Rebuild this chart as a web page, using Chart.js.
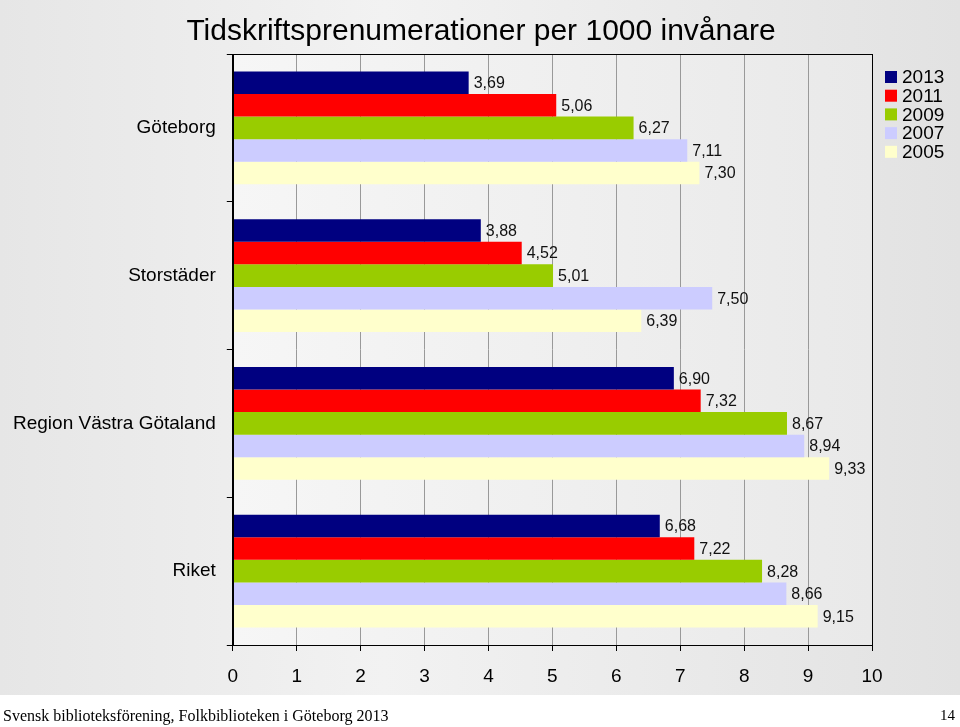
<!DOCTYPE html>
<html>
<head>
<meta charset="utf-8">
<script src="https://cdn.jsdelivr.net/npm/chart.js@4.4.0/dist/chart.umd.min.js"></script>
<style>
  body { margin: 0; background: #fff; }
  #slide { position: relative; width: 960px; height: 695px;
    background: linear-gradient(to right, #e6e6e6 0%, #f2f2f2 40%, #e2e2e2 100%); }
  #prenumerationer { position: absolute; left: 0; top: 0; }
  #footer { position: relative; width: 960px; height: 32px; font-family: "Liberation Serif", "DejaVu Serif", serif; color: #000; }
  #footer .kalla { position: absolute; left: 3px; top: 12px; font-size: 16px; }
  #footer .sida { position: absolute; right: 5px; top: 12px; font-size: 15px; }
</style>
</head>
<body>
<div id="slide"><canvas id="prenumerationer" width="960" height="703" style="width:960px;height:703px"></canvas></div>
<div id="footer"><span class="kalla">Svensk biblioteksförening, Folkbiblioteken i Göteborg 2013</span><span class="sida">14</span></div>
<script>
var kategorier = ['Göteborg', 'Storstäder', 'Region Västra Götaland', 'Riket'];
var ar2013 = [3.69, 3.88, 6.90, 6.68];
var ar2011 = [5.06, 4.52, 7.32, 7.22];
var ar2009 = [6.27, 5.01, 8.67, 8.28];
var ar2007 = [7.11, 7.50, 8.94, 8.66];
var ar2005 = [7.30, 6.39, 9.33, 9.15];

var typsnitt = 'Arial, "Liberation Sans", sans-serif';

// ljusare yta bakom staplarna + svart ram
var plotyta = {
  id: 'plotyta',
  beforeDraw: function(chart) {
    var ctx = chart.ctx, a = chart.chartArea;
    var g = ctx.createLinearGradient(a.left, 0, a.right, 0);
    g.addColorStop(0, '#f6f6f6');
    g.addColorStop(1, '#e9e9e9');
    ctx.save();
    ctx.fillStyle = g;
    ctx.fillRect(a.left, a.top, a.right - a.left, a.bottom - a.top);
    ctx.restore();
  },
  afterDraw: function(chart) {
    var ctx = chart.ctx, a = chart.chartArea;
    ctx.save();
    ctx.strokeStyle = '#000';
    ctx.lineWidth = 1;
    ctx.strokeRect(Math.round(a.left) + 0.5, Math.round(a.top) + 0.5, Math.round(a.right - a.left), Math.round(a.bottom - a.top));
    ctx.restore();
  }
};

// värden efter staplarna
var etiketter = {
  id: 'etiketter',
  afterDatasetsDraw: function(chart) {
    var ctx = chart.ctx;
    ctx.save();
    ctx.font = '16px ' + typsnitt;
    ctx.fillStyle = '#111';
    ctx.textBaseline = 'middle';
    chart.data.datasets.forEach(function(ds, i) {
      chart.getDatasetMeta(i).data.forEach(function(bar, j) {
        ctx.fillText(ds.data[j].toFixed(2).replace('.', ','), bar.x + 5, bar.y + 1);
      });
    });
    ctx.restore();
  }
};

// förklaring uppe till höger
var forklaring = {
  id: 'forklaring',
  afterDraw: function(chart) {
    var ctx = chart.ctx, a = chart.chartArea;
    ctx.save();
    ctx.font = '19px ' + typsnitt;
    ctx.textBaseline = 'middle';
    chart.data.datasets.forEach(function(ds, i) {
      var y = a.top + 23 + i * 18.7;
      ctx.fillStyle = ds.backgroundColor;
      ctx.fillRect(a.right + 13, y - 6, 12, 12);
      ctx.fillStyle = '#000';
      ctx.fillText(ds.label, a.right + 30, y + 1);
    });
    ctx.restore();
  }
};

var ctx = document.getElementById('prenumerationer').getContext('2d');

var prenumerationer = new Chart(ctx, {
  type: 'bar',
  data: {
    labels: kategorier,
    datasets: [
      { label: '2013', data: ar2013, backgroundColor: '#000080' },
      { label: '2011', data: ar2011, backgroundColor: '#ff0000' },
      { label: '2009', data: ar2009, backgroundColor: '#99cc00' },
      { label: '2007', data: ar2007, backgroundColor: '#ccccff' },
      { label: '2005', data: ar2005, backgroundColor: '#ffffcc' }
    ]
  },
  options: {
    indexAxis: 'y',
    responsive: false,
    animation: false,
    datasets: {
      bar: { categoryPercentage: 0.764, barPercentage: 1.0, borderWidth: 0 }
    },
    layout: { padding: { left: 2, right: 0, top: 0, bottom: 0 } },
    plugins: {
      legend: { display: false },
      tooltip: { enabled: false },
      title: {
        display: true,
        text: 'Tidskriftsprenumerationer per 1000 invånare',
        color: '#000',
        font: { family: typsnitt, size: 30, weight: 'normal' },
        padding: { top: 14, bottom: 4 }
      }
    },
    scales: {
      x: {
        min: 0,
        max: 10,
        ticks: { stepSize: 1, color: '#000', padding: 16.5, font: { family: typsnitt, size: 19, lineHeight: 1 } },
        grid: { color: '#999', tickColor: '#000', tickLength: 6 },
        border: { color: '#000' }
      },
      y: {
        ticks: { color: '#000', padding: 11, font: { family: typsnitt, size: 19 } },
        grid: { drawOnChartArea: false, offset: true, tickColor: '#000', tickLength: 6 },
        border: { color: '#000' }
      },
      plats: {
        axis: 'y',
        type: 'linear',
        position: 'right',
        ticks: { display: false },
        grid: { display: false },
        border: { display: false },
        afterFit: function(s) { s.width = 88; }
      }
    }
  },
  plugins: [plotyta, etiketter, forklaring]
});
</script>
</body>
</html>
